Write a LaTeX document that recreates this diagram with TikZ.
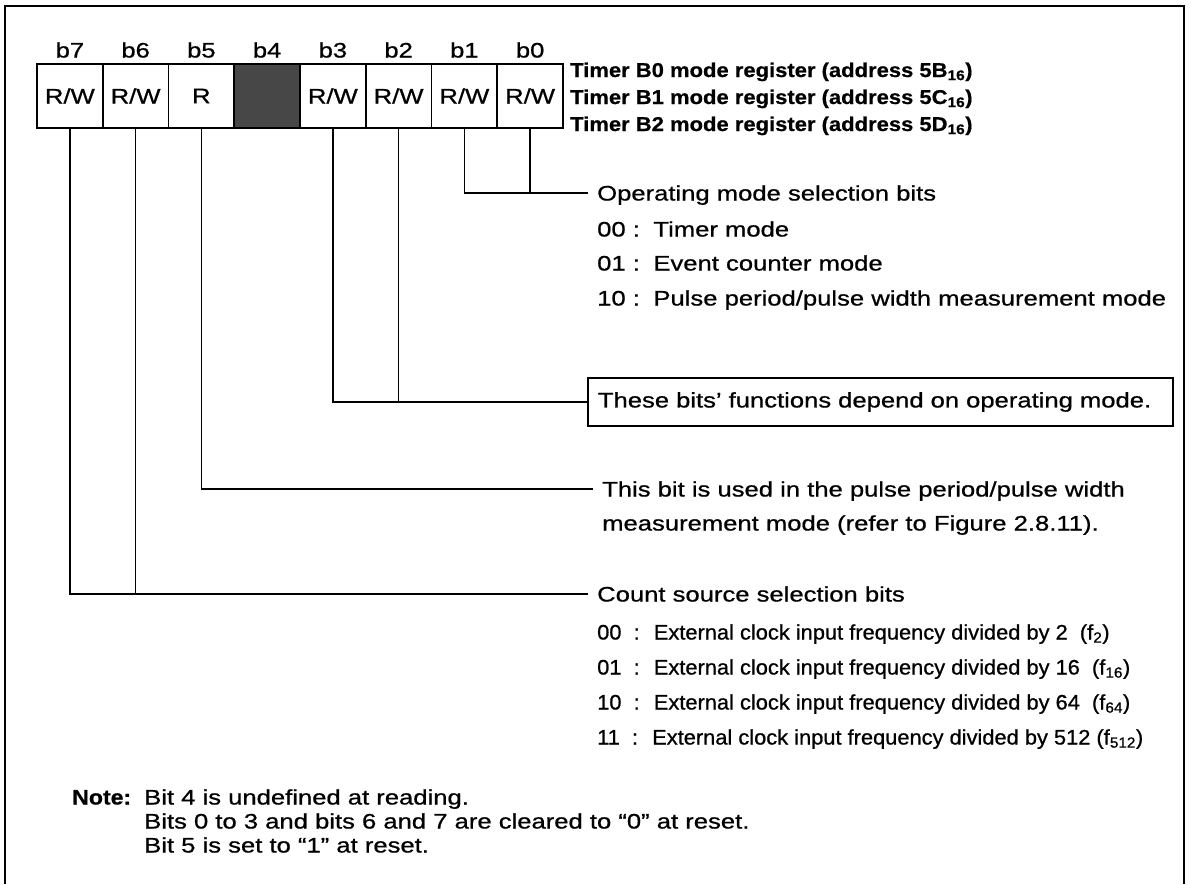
\documentclass[tikz,border=0pt]{standalone}
\usepackage{fontspec}
\setmainfont{Liberation Sans}[FakeStretch=1.22, FakeBold=0.8]
\newfontfamily\narrowfont{Liberation Sans}[FakeStretch=1.04, FakeBold=0.8]
\newfontfamily\regboldfont{Liberation Sans Bold}[FakeStretch=1.1, FakeBold=0.6]
\begin{document}
\begin{tikzpicture}[x=1pt,y=-1pt,
  font=\fontsize{21pt}{25pt}\selectfont,
  cell/.style={draw, line width=1.6pt, minimum width=65.75pt, minimum height=64pt, inner sep=0pt},
  blabel/.style={inner sep=0pt},
  txt/.style={anchor=west, inner xsep=9pt, inner ysep=0pt, text height=15pt, text depth=0pt},
  plain/.style={anchor=west, inner sep=0pt, text height=15pt, text depth=0pt},
  lst/.style={txt, font=\fontsize{21pt}{25pt}\selectfont\narrowfont},
  conn/.style={line width=1.3pt},
  reg/.style={anchor=west, inner sep=0pt, text height=14pt, text depth=0pt, font=\fontsize{20pt}{23pt}\selectfont\regboldfont}]
\useasboundingbox (0,0) rectangle (1191,884);
% frame
\draw[line width=2.6pt] (5,884) -- (5,6) -- (1184,6) -- (1184,884);
% register cells
\node[cell] (c7) at (69.875,96) {R/W};
\node[cell] (c6) at (135.625,96) {R/W};
\node[cell] (c5) at (201.375,96) {R};
\node[cell, fill=black!72] (c4) at (267.125,96) {};
\node[cell] (c3) at (332.875,96) {R/W};
\node[cell] (c2) at (398.625,96) {R/W};
\node[cell] (c1) at (464.375,96) {R/W};
\node[cell] (c0) at (530.125,96) {R/W};
% bit labels
\node[blabel] (l7) at (69.875,50) {b7};
\node[blabel] (l6) at (135.625,50) {b6};
\node[blabel] (l5) at (201.375,50) {b5};
\node[blabel] (l4) at (267.125,50) {b4};
\node[blabel] (l3) at (332.875,50) {b3};
\node[blabel] (l2) at (398.625,50) {b2};
\node[blabel] (l1) at (464.375,50) {b1};
\node[blabel] (l0) at (530.125,50) {b0};
% register names
\node[reg] (t0) at (570,70) {Timer B0 mode register (address 5B\textsubscript{16})};
\node[reg] (t1) at (570,97) {Timer B1 mode register (address 5C\textsubscript{16})};
\node[reg] (t2) at (570,124) {Timer B2 mode register (address 5D\textsubscript{16})};
% operating mode
\node[txt] (op) at (588,193) {Operating mode selection bits};
\node[txt] (op0) at (588,229) {00 : \kern4pt Timer mode};
\node[txt] (op1) at (588,263) {01 : \kern4pt Event counter mode};
\node[txt] (op2) at (588,298) {10 : \kern4pt Pulse period/pulse width measurement mode};
% box
\node[draw, line width=1.8pt, anchor=west, text width=565pt, inner xsep=10pt, inner ysep=0pt,
      minimum height=48pt, align=left] (fn) at (587,402) {These bits’ functions depend on operating mode.};
% b5 text
\node[txt] (bfa) at (593,489) {This bit is used in the pulse period/pulse width};
\node[txt] (bfb) at (593,523) {measurement mode (refer to Figure 2.8.11).};
% count source
\node[txt] (cnt) at (588,594) {Count source selection bits};
\node[lst] (cs0) at (588,632) {00 \ : \ External clock input frequency divided by 2 \ (f\textsubscript{2})};
\node[lst] (cs1) at (588,667) {01 \ : \ External clock input frequency divided by 16 \ (f\textsubscript{16})};
\node[lst] (cs2) at (588,702) {10 \ : \ External clock input frequency divided by 64 \ (f\textsubscript{64})};
\node[lst] (cs3) at (588,737) {11 \ : \ External clock input frequency divided by 512 (f\textsubscript{512})};
% note
\node[plain, font=\fontsize{21pt}{25pt}\selectfont\regboldfont] (nt) at (72,797) {Note:};
\node[plain] (n1) at (144,797) {Bit 4 is undefined at reading.};
\node[plain] (n2) at (144,821) {Bits 0 to 3 and bits 6 and 7 are cleared to “0” at reset.};
\node[plain] (n3) at (144,845) {Bit 5 is set to “1” at reset.};
% connectors
\draw[conn] (c1.south) |- (op.west);
\draw[conn] (c0.south) -- (c0.south |- op.west);
\draw[conn] (c3.south) |- (fn.west);
\draw[conn] (c2.south) -- (c2.south |- fn.west);
\draw[conn] (c5.south) |- (bfa.west);
\draw[conn] (c7.south) |- (cnt.west);
\draw[conn] (c6.south) -- (c6.south |- cnt.west);
\end{tikzpicture}
\end{document}
